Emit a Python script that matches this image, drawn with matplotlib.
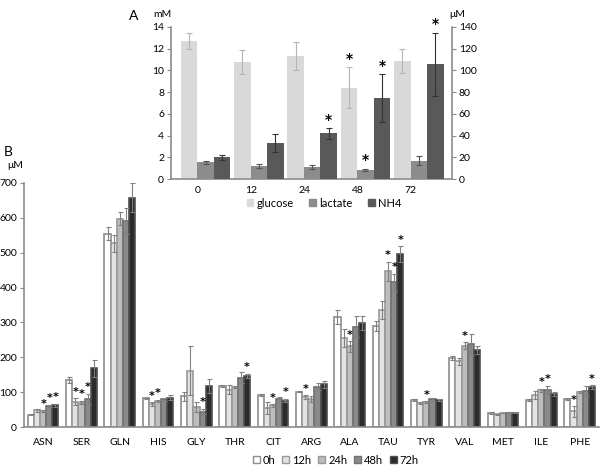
#!/usr/bin/env python
# coding:utf-8
"""plot.py - glucose / lactate / NH4 and amino acid bars"""

import numpy as np
import matplotlib
matplotlib.use('Agg')
import matplotlib.pyplot as plt
from matplotlib.patches import Patch

plt.rcParams['font.family'] = ['Lato', 'DejaVu Sans']

# ---- panel A data ----
times = ['0', '12', '24', '48', '72']
glucose = [12.7, 10.8, 11.3, 8.4, 10.9]
glucose_err = [0.7, 1.1, 1.3, 1.9, 1.1]
lactate = [1.55, 1.2, 1.1, 0.85, 1.7]
lactate_err = [0.15, 0.2, 0.2, 0.1, 0.4]
nh4 = [20, 33, 42, 74.5, 105.5]          # uM, right axis
nh4_err = [2.5, 8, 5, 22, 29]
glucose_star = [False, False, False, True, False]
lactate_star = [False, False, False, True, False]
nh4_star = [False, False, True, True, True]

# ---- panel B data ----
amino = ['ASN', 'SER', 'GLN', 'HIS', 'GLY', 'THR', 'CIT', 'ARG', 'ALA', 'TAU',
         'TYR', 'VAL', 'MET', 'ILE', 'PHE']
hours = ['0h', '12h', '24h', '48h', '72h']
val_0h = [35, 135, 555, 82, 88, 118, 91, 101, 315, 290, 77, 197, 40, 78, 80]
val_12h = [48, 73, 527, 66, 162, 107, 55, 86, 255, 336, 69, 188, 36, 92, 45]
val_24h = [45, 70, 598, 75, 58, 114, 62, 81, 231, 447, 72, 233, 40, 105, 100]
val_48h = [60, 80, 591, 80, 44, 142, 79, 116, 287, 415, 79, 237, 41, 106, 104]
val_72h = [62, 168, 658, 84, 117, 147, 76, 123, 298, 495, 78, 221, 41, 95, 115]
err_0h = [2, 8, 18, 2, 13, 3, 3, 2, 20, 15, 2, 6, 2, 3, 2]
err_12h = [4, 10, 25, 5, 70, 13, 17, 5, 25, 25, 3, 10, 2, 12, 15]
err_24h = [3, 5, 18, 3, 15, 3, 4, 8, 15, 27, 2, 10, 1, 5, 2]
err_48h = [4, 15, 38, 4, 8, 15, 8, 10, 30, 25, 5, 30, 2, 12, 15]
err_72h = [5, 25, 42, 7, 20, 6, 5, 10, 20, 23, 2, 12, 2, 6, 5]
star_0h = [0] * 15
star_12h = [0, 1, 0, 1, 0, 0, 0, 1, 0, 0, 0, 0, 0, 0, 1]
star_24h = [1, 1, 0, 1, 0, 0, 1, 0, 1, 1, 1, 1, 0, 1, 0]
star_48h = [1, 1, 0, 0, 1, 0, 0, 0, 0, 1, 0, 0, 0, 1, 0]
star_72h = [1, 0, 0, 0, 0, 1, 1, 0, 0, 1, 0, 0, 0, 0, 1]


def star(ax, x, y, size=10):
  ax.annotate('*', (x, y), xytext=(0, 1), textcoords='offset points',
              ha='center', va='bottom', fontsize=size, fontweight='bold',
              family='DejaVu Sans', annotation_clip=False)


fig = plt.figure(figsize=(6, 4.68), dpi=100)

# ---------------- panel B (drawn first, no background) ----------------
ax2 = fig.add_axes([0.04, 0.0876, 0.958, 0.5214])
ax2.patch.set_visible(False)
xb = np.arange(len(amino))
bw = 0.16
series = [val_0h, val_12h, val_24h, val_48h, val_72h]
errors = [err_0h, err_12h, err_24h, err_48h, err_72h]
stars = [star_0h, star_12h, star_24h, star_48h, star_72h]
fills = ['#ffffff', '#e3e3e3', '#bdbdbd', '#8a8a8a', '#2b2b2b']
edges = ['#8c8c8c', '#999999', '#999999', '#707070', '#505050']
for k in range(5):
  pos = xb + (k - 2) * bw
  ax2.bar(pos, series[k], bw, color=fills[k], edgecolor=edges[k], linewidth=1.2,
          yerr=errors[k], zorder=2,
          error_kw=dict(ecolor='#808080', elinewidth=0.8, capsize=1.8, capthick=0.8))
  for i in range(len(amino)):
    if stars[k][i]:
      star(ax2, pos[i], series[k][i] + errors[k][i], size=8)

ax2.set_xlim(-0.5, 14.5)
ax2.set_ylim(0, 700)
ax2.set_yticks(np.arange(0, 701, 100))
ax2.set_xticks(xb)
ax2.set_xticklabels(amino)
ax2.tick_params(axis='x', length=0, labelsize=7.5, pad=8)
ax2.tick_params(axis='y', length=3, color='#8c8c8c', labelsize=7.5, pad=2)
for s in ('top', 'right'):
  ax2.spines[s].set_visible(False)
for s in ('left', 'bottom'):
  ax2.spines[s].set_color('#8c8c8c')
  ax2.spines[s].set_linewidth(1.2)

hb = [Patch(facecolor=f, edgecolor=e, linewidth=1.0) for f, e in zip(fills, edges)]
fig.legend(hb, hours, loc='center', ncol=5, bbox_to_anchor=(0.56, 0.017),
           frameon=False, fontsize=8, handlelength=0.6, handleheight=0.6,
           handletextpad=0.3, columnspacing=0.6)
fig.text(0.014, 0.675, 'B', fontsize=10, ha='center', va='center')
fig.text(0.026, 0.647, 'μM', fontsize=7.5, ha='center', va='center')

# ---------------- panel A ----------------
axa = fig.add_axes([0.285, 0.6175, 0.468, 0.325])
axa.patch.set_visible(False)
axb = axa.twinx()
xa = np.arange(len(times))
w = 0.31
axa.bar(xa - 0.16, glucose, w, color='#d9d9d9', yerr=glucose_err,
        error_kw=dict(ecolor='#b5b5b5', elinewidth=0.8, capsize=2, capthick=0.8),
        label='glucose', zorder=2)
axa.bar(xa + 0.15, lactate, w, color='#8c8c8c', yerr=lactate_err,
        error_kw=dict(ecolor='#555555', elinewidth=0.8, capsize=2, capthick=0.8),
        label='lactate', zorder=2)
axb.bar(xa + 0.46, nh4, w, color='#595959', yerr=nh4_err,
        error_kw=dict(ecolor='#333333', elinewidth=0.8, capsize=2, capthick=0.8),
        label='NH4', zorder=2)
for i in range(len(times)):
  if glucose_star[i]:
    star(axa, xa[i] - 0.16, glucose[i] + glucose_err[i])
  if lactate_star[i]:
    star(axa, xa[i] + 0.15, lactate[i] + lactate_err[i])
  if nh4_star[i]:
    star(axb, xa[i] + 0.46, nh4[i] + nh4_err[i])

axa.set_xlim(-0.5, 4.77)
axa.set_ylim(0, 14)
axb.set_ylim(0, 140)
axa.set_yticks(np.arange(0, 15, 2))
axb.set_yticks(np.arange(0, 141, 20))
axa.set_xticks(xa)
axa.set_xticklabels(times)
axa.set_xticks(np.arange(-0.5, 5, 1), minor=True)
axa.tick_params(axis='x', which='major', length=0, pad=5, labelsize=7.5)
axa.tick_params(axis='x', which='minor', length=3, color='#8c8c8c', direction='in')
for ax in (axa, axb):
  ax.tick_params(axis='y', labelsize=7.5, length=3, color='#8c8c8c', pad=2)
  for s in ax.spines.values():
    s.set_visible(False)
axa.spines['left'].set_visible(True)
axa.spines['bottom'].set_visible(True)
axb.spines['right'].set_visible(True)
for s in ('left', 'bottom'):
  axa.spines[s].set_color('#8c8c8c')
  axa.spines[s].set_linewidth(1.2)
axb.spines['right'].set_color('#8c8c8c')
axb.spines['right'].set_linewidth(1.2)

ha = [Patch(color='#d9d9d9'), Patch(color='#8c8c8c'), Patch(color='#595959')]
fig.legend(ha, ['glucose', 'lactate', 'NH4'], loc='center', ncol=3,
           bbox_to_anchor=(0.54, 0.566), frameon=False, fontsize=8,
           handlelength=0.6, handleheight=0.6, handletextpad=0.3,
           columnspacing=1.4)
fig.text(0.222, 0.966, 'A', fontsize=10, ha='center', va='center')
fig.text(0.27, 0.97, 'mM', fontsize=7.5, ha='center', va='center')
fig.text(0.762, 0.97, 'μM', fontsize=7.5, ha='center', va='center')

fig.savefig('out.png', dpi=100)
